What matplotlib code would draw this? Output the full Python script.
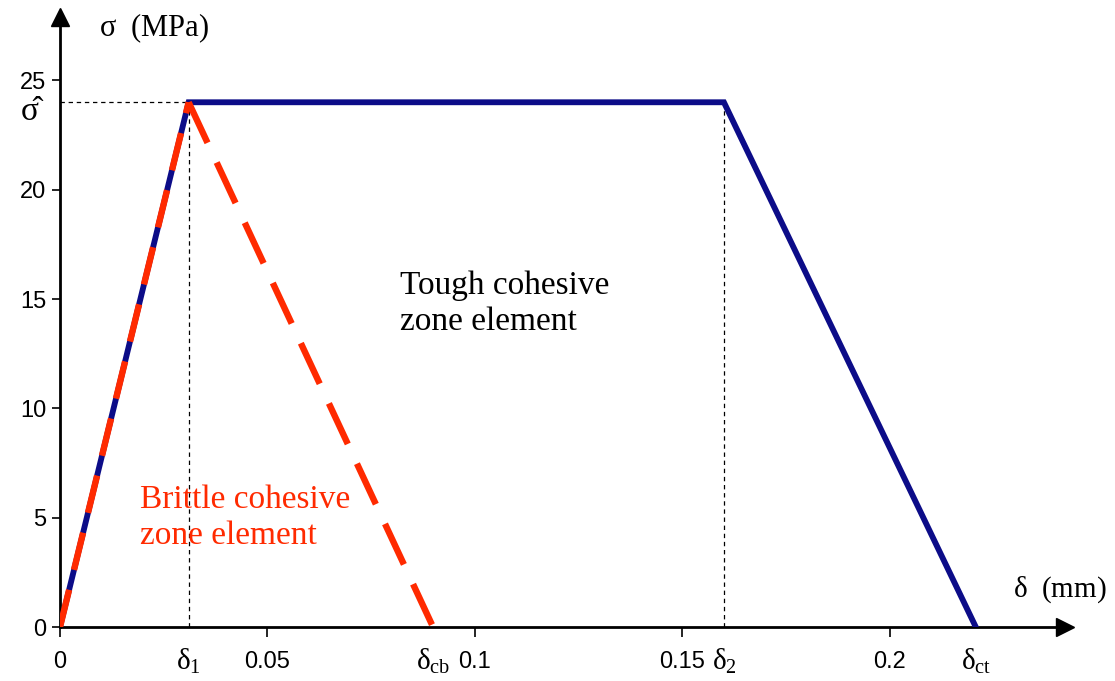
import numpy as np
from matplotlib import pyplot as plt

plt.rcParams['mathtext.fontset'] = 'custom'
plt.rcParams['mathtext.rm'] = 'Liberation Serif'
plt.rcParams['mathtext.it'] = 'Liberation Serif'
plt.rcParams['mathtext.bf'] = 'Liberation Serif'

# Traction-separation laws (delta in mm, sigma in MPa)
toughDelta = [0.0, 0.031, 0.160, 0.2207]
toughSigma = [0.0, 24.0, 24.0, 0.0]
brittleRiseDelta = [0.0, 0.031]
brittleRiseSigma = [0.0, 24.0]
brittleFallDelta = [0.031, 0.0899]
brittleFallSigma = [24.0, 0.0]

sigmaHat = 24.0
delta1 = 0.031
delta2 = 0.160
deltaCb = 0.0899
deltaCt = 0.2207

xTicks = [0, 0.05, 0.1, 0.15, 0.2]
xTickLabels = ["0", "0.05", "0.1", "0.15", "0.2"]
yTicks = [0, 5, 10, 15, 20, 25]
deltaMarks = [delta1, deltaCb, delta2, deltaCt]
deltaLabels = [r"$\delta_1$", r"$\delta_{\rm cb}$", r"$\delta_2$", r"$\delta_{\rm ct}$"]

fig = plt.figure(figsize=(11.15, 6.81), dpi=100)
ax = fig.add_axes([60 / 1115, 54 / 681, 1005 / 1115, 610 / 681])

ax.set_xlim(0, 0.2422)
ax.set_ylim(0, 27.9)

# Linhas auxiliares tracejadas
ax.plot([0, delta1], [sigmaHat, sigmaHat], color='black', lw=0.9, ls=(0, (3.5, 3)))
ax.plot([delta1, delta1], [0, sigmaHat], color='black', lw=0.9, ls=(0, (3.5, 3)))
ax.plot([delta2, delta2], [0, sigmaHat], color='black', lw=0.9, ls=(0, (3.5, 3)))

ax.plot(toughDelta, toughSigma, color='#0c0c88', lw=4.2, solid_joinstyle='miter', zorder=3)
ax.plot(brittleRiseDelta, brittleRiseSigma, color='#ff2a00', lw=4.6, dashes=(6.0, 3.2),
        dash_capstyle='butt', zorder=4)
ax.plot(brittleFallDelta, brittleFallSigma, color='#ff2a00', lw=4.6, dashes=(7.0, 3.4),
        dash_capstyle='butt', zorder=4)

ax.text(0.0819, 16.3, "Tough cohesive\nzone element", fontsize=24, family='Liberation Serif',
        va='top', ha='left', linespacing=1.22)
ax.text(0.0193, 6.5, "Brittle cohesive\nzone element", fontsize=24, family='Liberation Serif',
        va='top', ha='left', color='#ff2a00', linespacing=1.22)

# Eixos com setas
for s in ['top', 'right']:
    ax.spines[s].set_visible(False)
for s in ['left', 'bottom']:
    ax.spines[s].set_linewidth(2.0)
ax.plot(1, 0, '>k', ms=13, transform=ax.transAxes, clip_on=False)
ax.plot(0, 1, '^k', ms=13, transform=ax.transAxes, clip_on=False)

ax.set_xticks(xTicks)
ax.set_xticklabels(xTickLabels, family='Liberation Sans', fontsize=17)
ax.set_yticks(yTicks)
ax.set_yticklabels([str(v) for v in yTicks], family='Liberation Sans', fontsize=17)
ax.tick_params(axis='x', length=7, width=1.2, pad=10)
ax.tick_params(axis='y', length=6, width=1.2, pad=4)

# sigma chapeu ao lado do eixo
yTrans = ax.get_yaxis_transform()
ax.text(-30 / 1005, 23.2, "σ\u0302", fontsize=24, family='Liberation Serif',
        ha='center', va='baseline', transform=yTrans)

for d, lab in zip(deltaMarks, deltaLabels):
    ax.text(d, -1.95, lab, fontsize=21, ha='center', va='baseline')

fig.text(154 / 1115, 1 - 28 / 681, r"$\sigma$  (MPa)", fontsize=22, family='Liberation Serif',
         ha='center', va='center')
fig.text(1060 / 1115, 1 - 590 / 681, r"$\delta$  (mm)", fontsize=21, family='Liberation Serif',
         ha='center', va='center')

plt.savefig('out.png', dpi=100)
plt.close()
